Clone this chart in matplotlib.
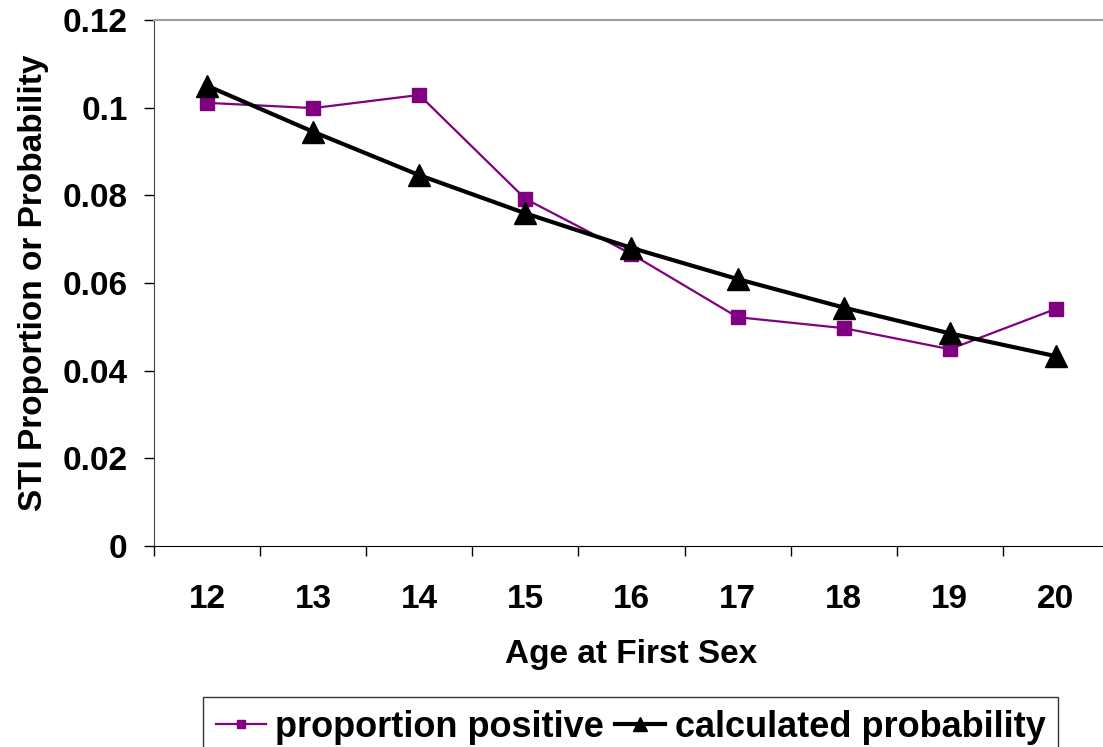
import matplotlib
matplotlib.use("Agg")
import matplotlib.pyplot as plt
from matplotlib.ticker import FixedLocator, FuncFormatter

ages = ["12", "13", "14", "15", "16", "17", "18", "19", "20"]
proportion_positive = [0.1011, 0.0999, 0.1029, 0.0792, 0.0666, 0.0522, 0.0497, 0.0449, 0.0541]
calculated_probability = [0.1050, 0.0945, 0.0846, 0.0759, 0.0680, 0.0609, 0.0544, 0.0485, 0.0433]
y_ticks = [0, 0.02, 0.04, 0.06, 0.08, 0.1, 0.12]

plt.rcParams['font.family'] = ['Liberation Sans', 'DejaVu Sans']
plt.rcParams['font.weight'] = 'bold'

W, H = 1103, 747
fig = plt.figure(figsize=(W / 100, H / 100), dpi=100)
ax = fig.add_axes([154 / W, 1 - 546 / H, (1109 - 154) / W, (546 - 20) / H])

x = list(range(len(ages)))
l1, = ax.plot(x, proportion_positive, color='#800080', lw=1.6, marker='s', ms=10,
              mec='#800080', mfc='#800080', label='proportion positive')
l2, = ax.plot(x, calculated_probability, color='black', lw=3, marker='^', ms=16,
              mec='black', mfc='black', label='calculated probability')

ax.set_xlim(-0.5, len(ages) - 0.5)
ax.set_ylim(0, 0.12)
ax.set_xticks(x)
ax.set_xticklabels(ages)
ax.xaxis.set_minor_locator(FixedLocator([i - 0.5 for i in range(len(ages) + 1)]))
ax.tick_params(axis='x', which='major', length=0, pad=27, labelsize=24)
ax.tick_params(axis='x', which='minor', length=7, width=1, color='black')
ax.set_yticks(y_ticks)
ax.yaxis.set_major_formatter(FuncFormatter(lambda v, p: f"{v:g}"))
ax.tick_params(axis='y', which='major', length=7, width=1, pad=12, labelsize=24, color='black')

ax.spines['right'].set_visible(False)
ax.spines['top'].set_color('#a0a0a0')
ax.spines['top'].set_linewidth(1.5)
ax.spines['left'].set_color('#404040')
ax.spines['bottom'].set_color('black')

ax.set_xlabel('Age at First Sex', fontsize=24, fontweight='bold', labelpad=18)
ax.set_ylabel('STI Proportion or Probability', fontsize=24, fontweight='bold', labelpad=10)

leg = fig.legend(handles=[l1, l2], loc='upper left', bbox_to_anchor=(203 / W, 1 - 697 / H),
                 borderaxespad=0, ncol=2, fontsize=26, frameon=True, fancybox=False,
                 shadow=False, handlelength=1.4, handletextpad=0.25, columnspacing=0.3,
                 borderpad=0.35, markerscale=0.6)
leg.get_frame().set_edgecolor('black')
leg.get_frame().set_linewidth(1)

fig.savefig('out.png', dpi=100)
